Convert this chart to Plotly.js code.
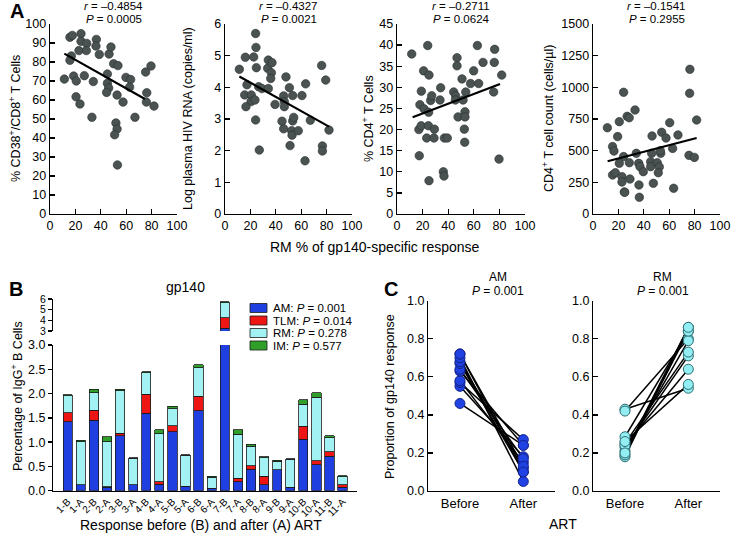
<!DOCTYPE html>
<html><head><meta charset="utf-8">
<script src="https://cdn.plot.ly/plotly-3.0.1.min.js"></script>
<style>html,body{margin:0;padding:0;background:#fff}#plot{width:734px;height:537px}</style>
</head><body><div id="plot"></div>
<script>
// ---------- Panel A data (RM % of gp140-specific response vs. clinical parameters) ----------
const a1x=[11.3,15.7,17.6,16.8,15.7,18.6,20.7,20.5,23.6,24.4,24.4,22.8,27,28.9,28.6,33,34.1,36.5,36.2,38.8,45.2,46.5,48,45.2,46.2,44.6,50.1,53.5,52.8,51.9,52.8,50.9,53.1,57.5,59.8,63.5,62.7,66.9,75.3,79.5,76.2,75.9,81.9];
const a1y=[71,93,94,83.2,80.9,72.6,70,61.7,57.9,94.9,90.9,86,72.8,89.8,86,50.9,69.7,91.9,88.4,84,73.7,84.2,87.9,68.8,66.3,64,79.1,78.1,62.6,47.9,44.7,41.7,25.8,58.9,71.9,70.8,66.8,50.9,74.7,77.9,63.8,58.9,56.8];
const a1fitX=[11.3,74.8], a1fitY=[84.4,60.5];

const a2x=[11.3,16,24.1,24.4,22.6,24.7,17.3,15.5,20.7,20.5,16.5,23.6,24.1,27,26.5,29.1,34.1,33.6,34.1,37,36.5,36,39.4,48,46.2,46.7,46.7,50.7,53.3,44.9,46.2,51.2,52.5,53.3,54.1,52.8,57.7,60.6,63.5,67.2,63,76.1,79.3,76.7,76.7,81.9];
const a2y=[4.57,4.95,5.7,5.26,4.96,4.62,4.08,3.76,3.76,3.55,3.39,3.6,2.97,2.02,4.02,3.96,3.96,4.6,4.86,4.78,4.46,4.28,3.46,4.33,3.73,3.55,3.39,3.99,3.74,2.93,2.69,2.16,2.63,2.94,3.05,2.49,2.63,3.74,4.11,2.96,1.68,4.69,4.23,2.15,1.99,2.65];
const a2fitX=[11.3,81.9], a2fitY=[4.34,2.76];

const a3x=[11.5,24,17.4,17.1,18.9,17.9,19,20.8,21.1,24.7,24.5,25,26.3,27.1,23.2,29.2,28.9,25,34.1,33.6,37,39.3,36.2,36.7,44.3,45.8,45.6,46.9,46.9,50.8,51.6,53.7,47.7,53.1,53.1,52.6,52.9,57.5,59.9,63.8,62.8,67.2,76.3,76,75.5,81.8,79.7];
const a3y=[37.9,39.9,13.8,20,20.9,25.9,29.1,33.9,24.9,24.1,20.9,32.9,26.9,28,18,20.1,18,7.9,29.9,27,18,18,10,9,28.9,28,27,37,35.1,32,27,28.9,23,24.2,23,20.1,17,30.9,33.9,30.9,39.9,35.9,39,35.9,28.9,32.9,13];
const a3fitX=[12.2,80.5], a3fitY=[22.9,30.8];

const a4x=[11.3,15.4,19.4,15.4,16.5,20.7,24.1,26.9,28.5,33.1,24.1,20.7,28.6,34.1,17.6,22.8,22.8,29.1,24.7,25,36,37,39.6,36.2,36.5,46.2,45.4,45.4,47.5,46.5,50.6,52.2,51.4,53.3,54.1,57.5,53,60.4,62.7,66.9,63.5,76.3,76.1,75.6,79.8,81.6];
const a4y=[681,308,611,532,497,729,961,771,760,821,453,400,405,479,326,295,253,276,174,171,400,374,334,229,132,479,413,374,242,616,405,372,326,479,645,600,500,721,518,624,203,1142,953,463,447,742];
const a4fitX=[11.5,81.6], a4fitY=[416,600];

const panelAYTitles=['% CD38<sup>+</sup>/CD8<sup>+</sup> T Cells','Log plasma HIV RNA (copies/ml)','% CD4<sup>+</sup> T Cells','CD4<sup>+</sup> T cell count (cells/µl)'];
const panelAR=['–0.4854','–0.4327','–0.2711','–0.1541'];
const panelAP=['0.0005','0.0021','0.0624','0.2955'];
const panelAYMax=[100,6,45,1500];
const panelAYStep=[10,1,5,250];
const panelAXTicks=[0,20,40,60,80,100];

// ---------- Panel B data (stacked percentages of IgG+ B cells) ----------
const bCats=['1-B','1-A','2-B','2-A','3-B','3-A','4-B','4-A','5-B','5-A','6-B','6-A','7-B','7-A','8-B','8-A','9-B','9-A','10-B','10-A','11-B','11-A'];
const bAM =[1.42,0.12,1.45,0.07,1.13,0.12,1.59,0.13,1.21,0.09,1.65,0.05,3.26,0.185,0.44,0.12,0.43,0.07,1.06,0.53,0.71,0.07];
const bTLM=[0.19,0.00,0.21,0.01,0.05,0.00,0.40,0.05,0.13,0.00,0.29,0.00,0.96,0.07,0.07,0.18,0.00,0.00,0.27,0.09,0.09,0.05];
const bRM =[0.35,0.89,0.36,0.93,0.88,0.55,0.44,0.99,0.35,0.64,0.59,0.23,1.44,0.905,0.41,0.38,0.18,0.58,0.45,1.30,0.29,0.17];
const bIM =[0.02,0.03,0.07,0.10,0.03,0.01,0.02,0.09,0.05,0.01,0.06,0.02,0.10,0.09,0.04,0.02,0.02,0.01,0.09,0.10,0.04,0.02];
const bNames=['AM','TLM','RM','IM'];
const bP=['0.001','0.014','0.278','0.577'];
const bLowTicks=[0,0.5,1,1.5,2,2.5,3];
const bHighTicks=[3,4,5,6];

// ---------- Panel C data (proportion of gp140 response before / after ART) ----------
const cCats=['Before','After'];
const cAMBefore=[0.46,0.55,0.57,0.58,0.63,0.64,0.67,0.68,0.70,0.72,0.72];
const cAMAfter =[0.24,0.18,0.27,0.15,0.24,0.17,0.10,0.12,0.05,0.13,0.10];
const cRMBefore=[0.43,0.42,0.18,0.19,0.21,0.23,0.25,0.285,0.24,0.26,0.20];
const cRMAfter =[0.54,0.80,0.86,0.84,0.79,0.71,0.73,0.84,0.64,0.56,0.86];
const cYTicks=[0,0.2,0.4,0.6,0.8,1.0];

// ---------- styling / layout ----------
const W=734,H=537;
const FONT='"Liberation Sans", Arial, Helvetica, sans-serif';
const fx=p=>p/W, fy=p=>1-p/H;
const colors={AM:'#1f3fe0',TLM:'#ee1515',RM:'#a2f2f4',IM:'#2f9f2a'};
const dotFill='#4a5252', dotLine='#2a2f2f';

const traces=[];
const layout={width:W,height:H,margin:{l:0,r:0,t:0,b:0},paper_bgcolor:'#fff',plot_bgcolor:'rgba(0,0,0,0)',
  showlegend:false,barmode:'stack',bargap:0.29,font:{family:FONT,color:'#000',size:12},annotations:[],shapes:[]};

function baseAxis(extra){
  return Object.assign({showline:true,linecolor:'#000',linewidth:1.4,showgrid:false,zeroline:false,
    ticks:'inside',ticklen:5,tickwidth:1.3,tickcolor:'#000',tickfont:{family:FONT,size:12.5,color:'#000'},fixedrange:true},extra);
}
function ann(text,x,y,opt){
  layout.annotations.push(Object.assign({text:text,x:fx(x),y:fy(y),xref:'paper',yref:'paper',showarrow:false,
    xanchor:'center',yanchor:'middle',font:{family:FONT,size:12,color:'#000'}},opt||{}));
}

// Panel A
const aX=[[50,177],[225,352],[397,525],[593,720]];
const aYb=214,aYt=24;
const aData=[[a1x,a1y,a1fitX,a1fitY],[a2x,a2y,a2fitX,a2fitY],[a3x,a3y,a3fitX,a3fitY],[a4x,a4y,a4fitX,a4fitY]];
const aTitleX=[15,188,368,548];
aData.forEach((d,i)=>{
  const n=i+1, xs=n===1?'':n, xa='x'+xs, ya='y'+xs;
  traces.push({type:'scatter',mode:'markers',x:d[0],y:d[1],xaxis:xa,yaxis:ya,
    marker:{size:8.5,color:dotFill,line:{color:dotLine,width:0.6}},hoverinfo:'skip'});
  traces.push({type:'scatter',mode:'lines',x:d[2],y:d[3],xaxis:xa,yaxis:ya,line:{color:'#000',width:2.2},hoverinfo:'skip'});
  const yt=[];for(let v=0;v<=panelAYMax[i]+1e-9;v+=panelAYStep[i])yt.push(v);
  layout['xaxis'+xs]=baseAxis({domain:[fx(aX[i][0]),fx(aX[i][1])],range:[0,100],anchor:ya,tickvals:panelAXTicks});
  layout['yaxis'+xs]=baseAxis({domain:[fy(aYb),fy(aYt)],range:[0,panelAYMax[i]],anchor:xa,tickvals:yt});
  const cx=(aX[i][0]+aX[i][1])/2;
  ann('<i>r</i> = '+panelAR[i],cx,6,{font:{family:FONT,size:11.5}});
  ann('<i>P</i> = '+panelAP[i],cx,19,{font:{family:FONT,size:11.5}});
  ann(panelAYTitles[i],aTitleX[i],119,{textangle:-90,font:{family:FONT,size:12.5}});
});
ann('RM % of gp140-specific response',375,247,{font:{family:FONT,size:14}});
ann('<b>A</b>',17,11,{font:{family:FONT,size:20}});

// Panel B (broken y axis: lower 0-3, upper 3-6)
const bX=[53.3,357];
const bSeries=[bAM,bTLM,bRM,bIM];
bSeries.forEach((s,k)=>{
  const c=colors[bNames[k]];
  ['x5|y5','x6|y6'].forEach(ax=>{
    const [xa,ya]=ax.split('|');
    traces.push({type:'bar',x:bCats,y:s,xaxis:xa,yaxis:ya,marker:{color:c,line:{color:'#1a1a1a',width:0.8}},hoverinfo:'skip'});
  });
});
layout.xaxis5=baseAxis({domain:[fx(bX[0]),fx(bX[1])],anchor:'y5',type:'category',categoryarray:bCats,range:[-1.1,22.1],
  ticks:'',tickangle:-45,tickfont:{family:FONT,size:10,color:'#000'}});
layout.yaxis5=baseAxis({domain:[fy(490.7),fy(345)],range:[0,3],anchor:'x5',tickvals:bLowTicks,tickformat:'.1f',ticks:'outside',ticklen:4});
layout.xaxis6=baseAxis({domain:[fx(bX[0]),fx(bX[1])],anchor:'y6',type:'category',categoryarray:bCats,range:[-1.1,22.1],
  showline:false,ticks:'',showticklabels:false});
layout.yaxis6=baseAxis({domain:[fy(331),fy(299)],range:[3,6],anchor:'x6',tickvals:bHighTicks,ticks:'outside',ticklen:4,
  tickfont:{family:FONT,size:10.5,color:'#000'}});
ann('gp140',185,287,{font:{family:FONT,size:14}});
ann('Percentage of IgG<sup>+</sup> B Cells',17,396,{textangle:-90,font:{family:FONT,size:12.5}});
ann('Response before (B) and after (A) ART',201,525,{font:{family:FONT,size:14}});
ann('<b>B</b>',16,289,{font:{family:FONT,size:20}});
// legend
bNames.forEach((nm,k)=>{
  const yc=308+k*12.5;
  layout.shapes.push({type:'rect',xref:'paper',yref:'paper',x0:fx(250),x1:fx(267),y0:fy(yc+4.5),y1:fy(yc-4.5),
    fillcolor:colors[nm],line:{color:'#1a1a1a',width:0.8}});
  ann(nm+': <i>P</i> = '+bP[k],271,yc,{xanchor:'left',font:{family:FONT,size:11.5}});
});

// Panel C
const cPanels=[{xs:7,x:[428.3,555],b:cAMBefore,a:cAMAfter,fill:'#2142e2',line:'#13238a',title:'AM'},
               {xs:8,x:[593.3,720],b:cRMBefore,a:cRMAfter,fill:'#92eef2',line:'#2c6c72',title:'RM'}];
cPanels.forEach(p=>{
  const xa='x'+p.xs, ya='y'+p.xs;
  p.b.forEach((v,j)=>{
    traces.push({type:'scatter',mode:'lines',x:cCats,y:[v,p.a[j]],xaxis:xa,yaxis:ya,line:{color:'#000',width:1.5},hoverinfo:'skip'});
  });
  traces.push({type:'scatter',mode:'markers',x:p.b.map(()=>cCats[0]),y:p.b,xaxis:xa,yaxis:ya,
    marker:{size:10,color:p.fill,line:{color:p.line,width:1}},hoverinfo:'skip'});
  traces.push({type:'scatter',mode:'markers',x:p.a.map(()=>cCats[1]),y:p.a,xaxis:xa,yaxis:ya,
    marker:{size:10,color:p.fill,line:{color:p.line,width:1}},hoverinfo:'skip'});
  layout['xaxis'+p.xs]=baseAxis({domain:[fx(p.x[0]),fx(p.x[1])],anchor:ya,type:'category',categoryarray:cCats,range:[-0.5,1.5],
    ticks:'',tickfont:{family:FONT,size:13,color:'#000'}});
  layout['yaxis'+p.xs]=baseAxis({domain:[fy(491),fy(300.7)],range:[0,1],anchor:xa,tickvals:cYTicks,tickformat:'.1f'});
  const cx=(p.x[0]+p.x[1])/2+6;
  ann(p.title,cx,277,{font:{family:FONT,size:12}});
  ann('<i>P</i> = 0.001',cx,291,{font:{family:FONT,size:12}});
});
ann('Proportion of gp140 response',390,397,{textangle:-90,font:{family:FONT,size:12.5}});
ann('ART',563,524,{font:{family:FONT,size:14}});
ann('<b>C</b>',391,289,{font:{family:FONT,size:20}});

Plotly.newPlot('plot',traces,layout,{staticPlot:true,displayModeBar:false});
</script>
</body></html>
